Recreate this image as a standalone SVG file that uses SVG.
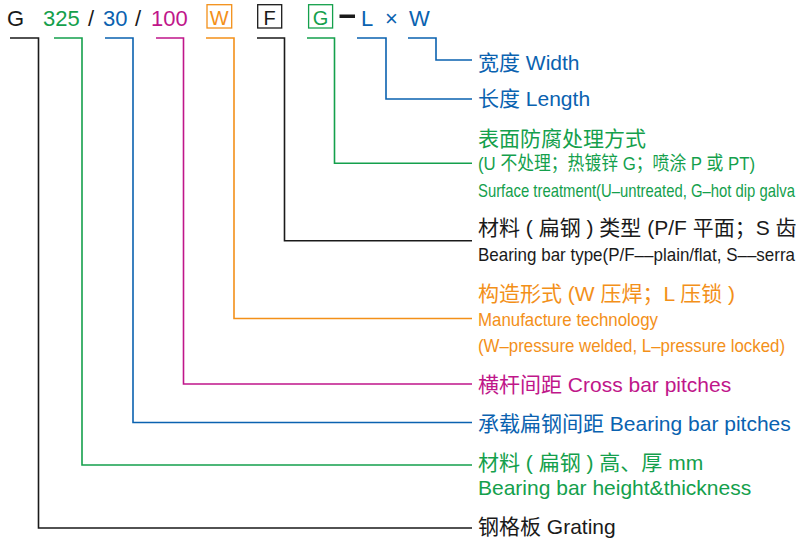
<svg xmlns="http://www.w3.org/2000/svg" width="796" height="542" viewBox="0 0 796 542">
<style>
text{font-family:"Liberation Sans","Noto Sans CJK SC",sans-serif;}
.t{font-size:22px;}
.r{font-size:21px;}
.c{font-size:19px;}
.bx{font-size:20px;}
.k{fill:#1a1a1a;}
.g{fill:#14a04c;}
.b{fill:#0a62b0;}
.m{fill:#c0168a;}
.o{fill:#f39019;}
.ln{fill:none;stroke-width:1.6;}
.sk{stroke:#1a1a1a;}
.sg{stroke:#14a04c;}
.sb{stroke:#0a62b0;}
.sm{stroke:#c0168a;}
.so{stroke:#f39019;}
.box{fill:none;stroke-width:1.3;}
</style>
<rect width="796" height="542" fill="#ffffff"/>
<g id="code">
<text class="t k" x="7" y="26">G</text>
<text class="t g" x="43" y="26">325</text>
<text class="t k" x="88" y="26">/</text>
<text class="t b" x="103" y="26">30</text>
<text class="t k" x="135" y="26">/</text>
<text class="t m" x="151" y="26">100</text>
<rect class="box so" x="207" y="4.7" width="24.7" height="23.3"/>
<text class="bx o" x="219.3" y="25" text-anchor="middle">W</text>
<rect class="box sk" x="257.7" y="4.7" width="24" height="23.3"/>
<text class="bx k" x="269.7" y="25" text-anchor="middle">F</text>
<rect class="box sg" x="308.6" y="4.7" width="24" height="23.3"/>
<text class="bx g" x="320.6" y="25" text-anchor="middle">G</text>
<rect x="339.5" y="14.5" width="15.5" height="3.5" fill="#1a1a1a"/>
<text class="t b" x="361" y="26">L</text>
<text class="t b" x="385" y="26">×</text>
<text class="t b" x="409" y="26">W</text>
</g>
<g id="connectors">
<path class="ln sk" d="M10,38 H38.5 V528 H472"/>
<path class="ln sg" d="M54,38 H82 V465 H472"/>
<path class="ln sb" d="M105,38 H133 V422.5 H472"/>
<path class="ln sm" d="M156,38 H183.5 V384 H472"/>
<path class="ln so" d="M206,38 H234 V318.5 H472"/>
<path class="ln sk" d="M257,38 H284.5 V240.7 H472"/>
<path class="ln sg" d="M307,38 H334.5 V163.3 H472"/>
<path class="ln sb" d="M357,38 H386 V99 H472"/>
<path class="ln sb" d="M408,38 H436 V60 H472"/>
</g>
<g id="width">
<text class="r b" x="478" y="70">宽度 Width</text>
</g>
<g id="length">
<text class="r b" x="478" y="106">长度 Length</text>
</g>
<g id="surface">
<text class="r g" x="478" y="146">表面防腐处理方式</text>
<text class="c g" x="478" y="169.5" textLength="277" lengthAdjust="spacingAndGlyphs">(U 不处理；热镀锌 G；喷涂 P 或 PT)</text>
<text class="c g" x="478" y="196.5" textLength="317" lengthAdjust="spacingAndGlyphs">Surface treatment(U–untreated, G–hot dip galva</text>
</g>
<g id="bartype">
<text class="r k" x="478" y="235">材料 ( 扁钢 ) 类型 (P/F 平面；S 齿</text>
<text class="c k" x="478" y="261" textLength="317" lengthAdjust="spacingAndGlyphs">Bearing bar type(P/F––plain/flat, S––serra</text>
</g>
<g id="manufacture">
<text class="r o" x="478" y="301">构造形式 (W 压焊；L 压锁 )</text>
<text class="c o" x="478" y="326" textLength="180" lengthAdjust="spacingAndGlyphs">Manufacture technology</text>
<text class="c o" x="478" y="352" textLength="307" lengthAdjust="spacingAndGlyphs">(W–pressure welded, L–pressure locked)</text>
</g>
<g id="crossbar">
<text class="r m" x="478" y="391.5">横杆间距 Cross bar pitches</text>
</g>
<g id="bearingpitch">
<text class="r b" x="478" y="431">承载扁钢间距 Bearing bar pitches</text>
</g>
<g id="height">
<text class="r g" x="478" y="470">材料 ( 扁钢 ) 高、厚 mm</text>
<text class="r g" x="478" y="495">Bearing bar height&amp;thickness</text>
</g>
<g id="grating">
<text class="r k" x="478" y="534">钢格板 Grating</text>
</g>
</svg>
